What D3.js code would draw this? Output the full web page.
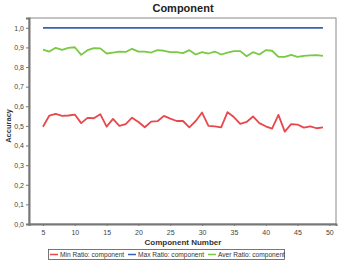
<!DOCTYPE html>
<meta charset="utf-8">
<style>
    body { margin: 0; background: #fff; }
    text { font-family: "Liberation Sans", Arial, sans-serif; }
</style>
<body>
<svg></svg>
<script src="https://cdn.jsdelivr.net/npm/d3@7"></script>
<script>

    // component numbers 5..49
    let components = d3.range(5, 50);

    let minRatio = [0.496, 0.553, 0.561, 0.551, 0.553, 0.558, 0.514, 0.541, 0.539, 0.560,
        0.496, 0.536, 0.500, 0.509, 0.542, 0.520, 0.493, 0.522, 0.524, 0.551,
        0.537, 0.525, 0.525, 0.493, 0.525, 0.568, 0.500, 0.498, 0.493, 0.570,
        0.545, 0.510, 0.520, 0.548, 0.514, 0.498, 0.486, 0.556, 0.471, 0.509,
        0.507, 0.491, 0.498, 0.488, 0.493];

    let maxRatio = components.map(() => 1.0);

    let averRatio = [0.889, 0.879, 0.898, 0.888, 0.898, 0.901, 0.862, 0.886, 0.896, 0.895,
        0.869, 0.874, 0.879, 0.877, 0.893, 0.879, 0.879, 0.874, 0.886, 0.883,
        0.876, 0.876, 0.871, 0.886, 0.864, 0.876, 0.869, 0.879, 0.864, 0.874,
        0.881, 0.881, 0.855, 0.876, 0.864, 0.886, 0.883, 0.852, 0.852, 0.862,
        0.852, 0.857, 0.859, 0.861, 0.857];

    let seriesNames = ["Min Ratio: component", "Max Ratio: component", "Aver Ratio: component"];
    let seriesColors = ["#e8474c", "#3c5fb4", "#79c944"];
    let xTicks = [5, 10, 15, 20, 25, 30, 35, 40, 45, 50];
    let yTicks = [0, 0.1, 0.2, 0.3, 0.4, 0.5, 0.6, 0.7, 0.8, 0.9, 1.0];

    let width = 338,
        height = 261;
    let margin = {top: 18, right: 2, bottom: 37, left: 29};

    let svg = d3.select("svg")
        .attr("width", width)
        .attr("height", height);

    let x = d3.scaleLinear().domain([2.8, 51.05]).range([margin.left, width - margin.right]);
    let y = d3.scaleLinear().domain([0, 1.05]).range([height - margin.bottom, margin.top]);

    let fmt = d => d3.format(".1f")(d).replace(".", ",");

    // title
    svg.append("text")
        .attr("x", 183).attr("y", 12)
        .attr("text-anchor", "middle")
        .style("font-size", "11px")
        .style("font-weight", "bold")
        .attr("fill", "#222")
        .text("Component");

    // frame
    svg.append("rect")
        .attr("x", margin.left).attr("y", margin.top)
        .attr("width", width - margin.left - margin.right)
        .attr("height", height - margin.top - margin.bottom)
        .attr("fill", "none")
        .attr("stroke", "#8a8a8a")
        .attr("stroke-width", 1);

    // y axis
    let yAxis = svg.append("g")
        .attr("transform", "translate(" + margin.left + ",0)")
        .call(d3.axisLeft(y).tickValues(yTicks).tickFormat(fmt).tickSize(3).tickPadding(2));
    yAxis.select(".domain").attr("stroke", "#777").attr("stroke-width", 2);
    yAxis.selectAll(".tick line").attr("stroke", "#777");
    yAxis.selectAll("text").style("font-size", "7px").attr("fill", "#444");

    // x axis
    let xAxis = svg.append("g")
        .attr("transform", "translate(0," + (height - margin.bottom) + ")")
        .call(d3.axisBottom(x).tickValues(xTicks).tickSize(2).tickPadding(4));
    xAxis.select(".domain").attr("stroke", "#777").attr("stroke-width", 2);
    xAxis.selectAll(".tick line").attr("stroke", "#777");
    xAxis.selectAll("text").style("font-size", "7px").attr("fill", "#444");

    // axis titles
    svg.append("text")
        .attr("x", 183).attr("y", 245)
        .attr("text-anchor", "middle")
        .style("font-size", "8px")
        .style("font-weight", "bold")
        .attr("fill", "#333")
        .text("Component Number");

    svg.append("text")
        .attr("transform", "translate(11," + y(0.5) + ") rotate(-90)")
        .attr("text-anchor", "middle")
        .style("font-size", "7.5px")
        .style("font-weight", "bold")
        .attr("fill", "#333")
        .text("Accuracy");

    // lines
    let line = d3.line()
        .x((d, i) => x(components[i]))
        .y(d => y(d));

    [minRatio, maxRatio, averRatio].forEach(function (vals, i) {
        svg.append("path")
            .datum(vals)
            .attr("fill", "none")
            .attr("stroke", seriesColors[i])
            .attr("stroke-width", 1.8)
            .attr("stroke-linejoin", "round")
            .attr("d", line);
    });

    // legend
    let legend = svg.append("g");
    legend.append("rect")
        .attr("x", 48.5).attr("y", 249.5)
        .attr("width", 236).attr("height", 10)
        .attr("fill", "#fff")
        .attr("stroke", "#555")
        .attr("stroke-width", 0.8);

    let legX = [50, 128, 208];
    seriesNames.forEach(function (name, i) {
        legend.append("line")
            .attr("x1", legX[i]).attr("x2", legX[i] + 8)
            .attr("y1", 254.5).attr("y2", 254.5)
            .attr("stroke", seriesColors[i])
            .attr("stroke-width", 1.5);
        legend.append("text")
            .attr("x", legX[i] + 10).attr("y", 257)
            .style("font-size", "6.6px")
            .attr("fill", "#333")
            .text(name);
    });

</script>
</body>
